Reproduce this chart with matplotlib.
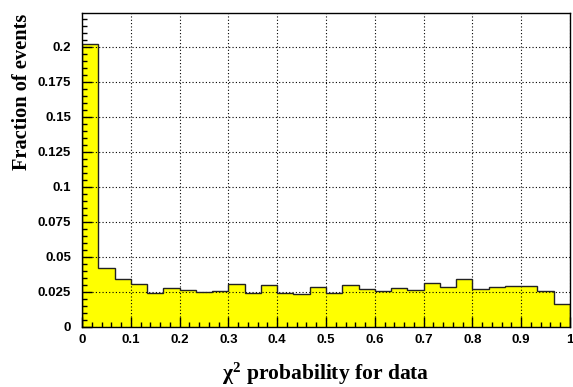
import numpy as np
import matplotlib
matplotlib.use("Agg")
import matplotlib.pyplot as plt
from matplotlib.ticker import MultipleLocator, FuncFormatter

# 30 bins of chi2 probability, fraction of events per bin
bin_edges = np.linspace(0, 1, 31)
fractions = [0.2019, 0.0417, 0.0339, 0.0303, 0.0238, 0.0274, 0.0264, 0.0246,
             0.0255, 0.0303, 0.0243, 0.0298, 0.0238, 0.0231, 0.0287, 0.0238,
             0.0300, 0.0271, 0.0255, 0.0274, 0.0262, 0.0310, 0.0281, 0.0338,
             0.0267, 0.0286, 0.0288, 0.0288, 0.0255, 0.0160]
x_ticks = [0, 0.1, 0.2, 0.3, 0.4, 0.5, 0.6, 0.7, 0.8, 0.9, 1]
y_ticks = [0, 0.025, 0.05, 0.075, 0.1, 0.125, 0.15, 0.175, 0.2]

plt.rcParams['mathtext.fontset'] = 'custom'
plt.rcParams['mathtext.rm'] = 'Liberation Serif:bold'
plt.rcParams['mathtext.it'] = 'Liberation Serif:bold'
plt.rcParams['mathtext.bf'] = 'Liberation Serif:bold'

fig = plt.figure(figsize=(5.73, 3.87), dpi=100)
ax = fig.add_axes([82 / 573, 60.3 / 387, 488 / 573, 313.4 / 387])

ax.stairs(fractions, bin_edges, fill=True, color='#ffff00', zorder=1)
ax.stairs(fractions, bin_edges, color='#222222', linewidth=1.0, zorder=3)

ax.set_xlim(0, 1)
ax.set_ylim(0, 0.2239)

ax.set_xticks(x_ticks)
ax.set_yticks(y_ticks)
ax.xaxis.set_minor_locator(MultipleLocator(0.02))
ax.yaxis.set_minor_locator(MultipleLocator(0.005))

def fmt(v, pos):
    s = ('%.3f' % v).rstrip('0').rstrip('.')
    return s

ax.xaxis.set_major_formatter(FuncFormatter(fmt))
ax.yaxis.set_major_formatter(FuncFormatter(fmt))

ax.tick_params(which='both', direction='in', top=False, right=False, width=1.0)
ax.tick_params(which='major', length=7)
ax.tick_params(which='minor', length=3.6)
ax.tick_params(axis='x', pad=5)
ax.tick_params(axis='y', pad=8)
for lab in ax.get_xticklabels() + ax.get_yticklabels():
    lab.set_fontfamily('Liberation Sans')
    lab.set_fontweight('bold')
    lab.set_fontsize(9.5)

ax.set_axisbelow(False)
ax.grid(True, which='major', linestyle=(0, (1, 2)), color='black', linewidth=0.8, zorder=2)

for sp in ax.spines.values():
    sp.set_linewidth(1.0)
    sp.set_zorder(4)

ax.set_xlabel(r'$\chi^{2}$ probability for data', family='Liberation Serif', weight='bold',
              fontsize=15.5, labelpad=11)
ax.set_ylabel('Fraction of events', family='Liberation Serif', weight='bold',
              fontsize=14.7, loc='top', labelpad=4)

fig.savefig('out.png', dpi=100)
